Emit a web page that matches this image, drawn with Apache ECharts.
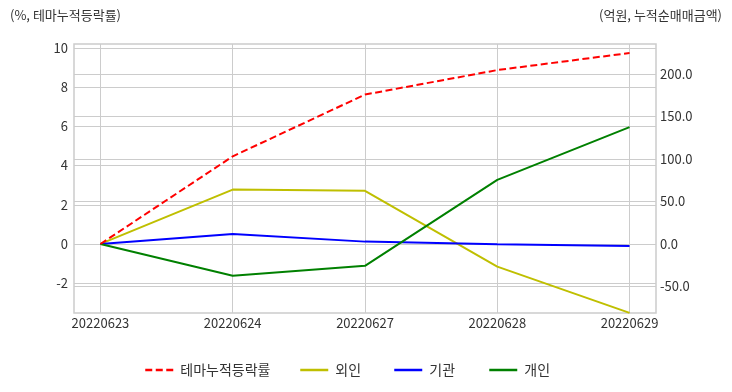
<!DOCTYPE html>
<html>
<head>
<meta charset="utf-8">
<script src="https://cdn.jsdelivr.net/npm/echarts@6/dist/echarts.min.js"></script>
<style>html,body{margin:0;padding:0;background:#fff}#c{width:732px;height:392px}</style>
</head>
<body>
<div id="c"></div>
<script>
const categories = ['20220623', '20220624', '20220627', '20220628', '20220629'];
const themeReturn = [0, 4.47, 7.62, 8.87, 9.74];      // %, left axis
const foreign = [0, 63.9, 62.4, -26.7, -81.0];         // 억원, right axis
const institution = [0, 11.8, 2.7, -0.4, -2.4];
const individual = [0, -37.5, -25.8, 75.3, 137.3];
const leftTicks = [-2, 0, 2, 4, 6, 8, 10];
const rightTicks = [-50, 0, 50, 100, 150, 200];
const seriesNames = ['테마누적등락률', '외인', '기관', '개인'];

const font = '"Noto Sans CJK KR", "Noto Sans", sans-serif';
const txt = '#333';
const idx = categories.map((_, i) => i);
const pts = arr => arr.map((v, i) => [i, v]);
const legendLefts = [139, 294, 388, 483];

const chart = echarts.init(document.getElementById('c'), null, {renderer: 'canvas'});
chart.setOption({
  animation: false,
  backgroundColor: '#fff',
  textStyle: {fontFamily: font},
  grid: {left: 74, right: 76, top: 44, bottom: 79, show: true, borderColor: '#cccccc', borderWidth: 1.5, backgroundColor: '#fff'},
  graphic: [
    {type: 'text', left: 10, top: 9, style: {text: '(%, 테마누적등락률)', font: '13px ' + font, fill: txt}},
    {type: 'text', right: 10, top: 9, style: {text: '(억원, 누적순매매금액)', font: '13px ' + font, fill: txt}}
  ],
  legend: seriesNames.map((n, i) => ({
    left: legendLefts[i], top: 358, itemWidth: 28, itemHeight: 12,
    itemStyle: {opacity: 0},
    lineStyle: {width: 2.5},
    textStyle: {fontFamily: font, fontSize: 14, color: txt, padding: [0, 0, 0, 2]},
    data: [n]
  })),
  xAxis: {
    type: 'value', min: -0.2, max: 4.2,
    axisLine: {show: false},
    axisTick: {show: false, customValues: idx},
    axisLabel: {customValues: idx, formatter: v => categories[Math.round(v)], color: txt, fontSize: 13, margin: 4, fontFamily: font},
    splitLine: {show: true, lineStyle: {color: '#cccccc', width: 1}}
  },
  yAxis: [
    {
      type: 'value', min: -3.52, max: 10.2, position: 'left',
      axisLine: {show: false},
      axisTick: {show: false, customValues: leftTicks},
      axisLabel: {customValues: leftTicks, color: txt, fontSize: 13, margin: 6, fontFamily: font},
      splitLine: {show: true, lineStyle: {color: '#cccccc', width: 1}}
    },
    {
      type: 'value', min: -81.2, max: 235, position: 'right',
      axisLine: {show: false},
      axisTick: {show: false, customValues: rightTicks},
      axisLabel: {customValues: rightTicks, formatter: v => v.toFixed(1), color: txt, fontSize: 13, margin: 4, fontFamily: font},
      splitLine: {show: true, lineStyle: {color: '#cccccc', width: 1}}
    }
  ],
  series: [
    {name: seriesNames[0], type: 'line', yAxisIndex: 0, data: pts(themeReturn), symbol: 'none', color: '#ff0000', lineStyle: {color: '#ff0000', width: 2, type: [7, 3.5]}, z: 5},
    {name: seriesNames[1], type: 'line', yAxisIndex: 1, data: pts(foreign), symbol: 'none', color: '#bfbf00', lineStyle: {color: '#bfbf00', width: 2}},
    {name: seriesNames[2], type: 'line', yAxisIndex: 1, data: pts(institution), symbol: 'none', color: '#0000ff', lineStyle: {color: '#0000ff', width: 2}},
    {name: seriesNames[3], type: 'line', yAxisIndex: 1, data: pts(individual), symbol: 'none', color: '#008000', lineStyle: {color: '#008000', width: 2}}
  ]
});
</script>
</body>
</html>
